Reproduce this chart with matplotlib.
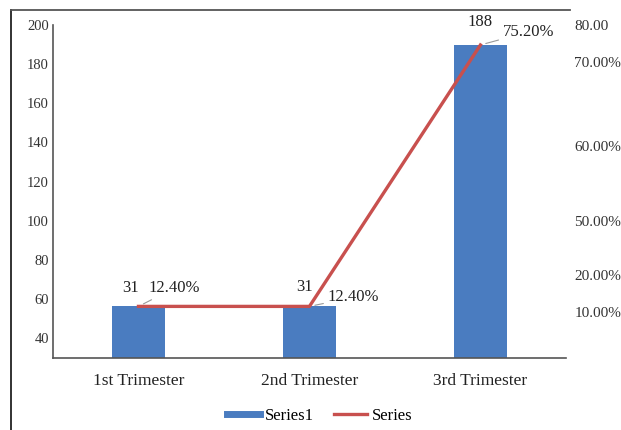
import matplotlib.pyplot as plt
from matplotlib.lines import Line2D
import numpy as np

plt.rcParams['font.family'] = ['Liberation Serif', 'DejaVu Serif']

# counts per trimester and their share of the total
trimesters = ['1st Trimester', '2nd Trimester', '3rd Trimester']
counts = [31, 31, 188]
shares = [0.124, 0.124, 0.752]
count_labels = ['31', '31', '188']
share_labels = ['12.40%', '12.40%', '75.20%']

left_tick_labels = ['200', '180', '160', '140', '120', '100', '80', '60', '40']
right_tick_vals = [0.80, 0.71, 0.51, 0.33, 0.20, 0.11]
right_tick_labels = ['80.00', '70.00%', '60.00%', '50.00%', '20.00%', '10.00%']

bar_color = '#4a7cc0'
line_color = '#c8504e'

fig = plt.figure(figsize=(6.21, 4.30), dpi=100)
ax = fig.add_axes([0.0853, 0.1674, 0.826, 0.7745])
x = np.arange(len(trimesters))

ax.bar(x, counts, width=0.31, color=bar_color, zorder=2)
ax.set_xlim(-0.5, 2.5)
ax.set_ylim(0, 200)
ax.set_yticks(np.linspace(200, 12, len(left_tick_labels)))
ax.set_yticklabels(left_tick_labels)
ax.set_xticks(x)
ax.set_xticklabels(trimesters)
ax.tick_params(axis='y', length=0, pad=3, labelsize=10.5, colors='#333333')
ax.tick_params(axis='x', length=0, pad=11, labelsize=12.5, colors='#222222')
for s in ['top', 'right']:
    ax.spines[s].set_visible(False)
for s in ['left', 'bottom']:
    ax.spines[s].set_color('#555555')
    ax.spines[s].set_linewidth(1.2)

ax2 = ax.twinx()
ax2.plot(x, shares, color=line_color, lw=2.4, zorder=3)
ax2.set_ylim(0, 0.8)
ax2.set_yticks(right_tick_vals)
ax2.set_yticklabels(right_tick_labels)
ax2.tick_params(axis='y', length=0, pad=6, labelsize=11, colors='#333333')
for s in ax2.spines.values():
    s.set_visible(False)

# value labels: count above each bar, share to the right with a short leader
count_off = [(-6, 13), (-3.6, 13.7), (0, 16.5)]
share_off = [(7, 13), (13, 6.5), (16, 9.4)]
for i in range(len(x)):
    ax.annotate(count_labels[i], (x[i], counts[i]), xytext=count_off[i],
                textcoords='offset points', ha='center', va='center',
                fontsize=12, color='#222222')
    ax2.annotate(share_labels[i], (x[i], shares[i]), xytext=share_off[i],
                 textcoords='offset points', ha='left', va='center',
                 fontsize=12, color='#222222',
                 arrowprops=dict(arrowstyle='-', color='#999999', lw=0.8,
                                 shrinkA=1, shrinkB=4))

handles = [Line2D([], [], color=bar_color, lw=5),
           Line2D([], [], color=line_color, lw=2.4)]
fig.legend(handles, ['Series1', 'Series'], loc='center', ncol=2,
           bbox_to_anchor=(0.515, 0.032), frameon=False, fontsize=12,
           handlelength=2.0, handletextpad=0.3, columnspacing=1.2)

# partial frame around the chart
fig.add_artist(Line2D([0.018, 0.018], [0.0, 0.977], color='#222222', lw=1.3,
                      transform=fig.transFigure))
fig.add_artist(Line2D([0.018, 0.918], [0.977, 0.977], color='#555555', lw=1.3,
                      transform=fig.transFigure))

fig.savefig('out.png', dpi=100)
